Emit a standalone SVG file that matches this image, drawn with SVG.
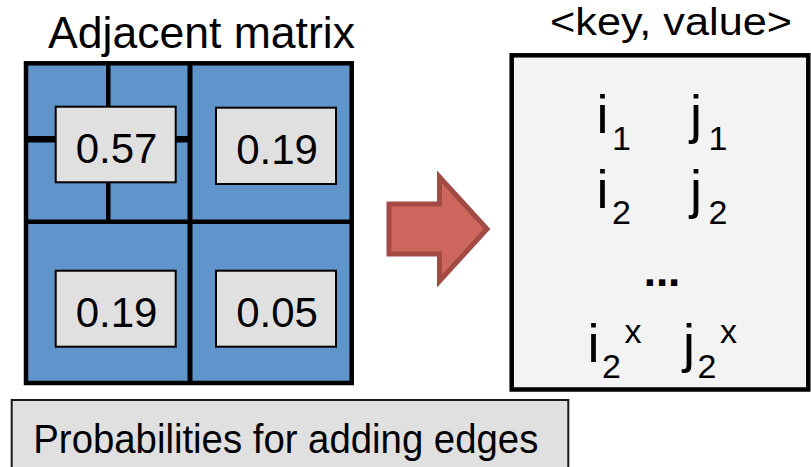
<svg xmlns="http://www.w3.org/2000/svg" width="811" height="467" viewBox="0 0 811 467">
<style>
text{font-family:"Liberation Sans",Arial,sans-serif;fill:#000}
.cell{fill:#5F95CA;stroke:#000;stroke-width:4.5}
.val{fill:#E0E0E0;stroke:#000;stroke-width:2}
.num{font-size:42px;text-anchor:middle}
.big{font-size:54px;text-anchor:middle}
.sm{font-size:34px;text-anchor:middle}
</style>
<rect width="811" height="467" fill="#fff"/>
<g id="matrix">
<text x="201.5" y="48" font-size="44" text-anchor="middle" textLength="307" lengthAdjust="spacingAndGlyphs">Adjacent matrix</text>
<rect class="cell" x="26" y="63.3" width="325.7" height="319.7"/>
<line x1="190" y1="63.3" x2="190" y2="383" stroke="#000" stroke-width="5"/>
<line x1="26" y1="221.7" x2="351.7" y2="221.7" stroke="#000" stroke-width="4.5"/>
<line x1="108.3" y1="63.3" x2="108.3" y2="221.7" stroke="#000" stroke-width="4.5"/>
<line x1="26" y1="139.3" x2="190" y2="139.3" stroke="#000" stroke-width="6.5"/>
<g id="v057"><rect class="val" x="55.7" y="106.7" width="120" height="75.6"/><text class="num" x="116.5" y="163">0.57</text></g>
<g id="v019a"><rect class="val" x="216" y="107.7" width="120" height="76.3"/><text class="num" x="277" y="164">0.19</text></g>
<g id="v019b"><rect class="val" x="55.7" y="270.7" width="120" height="76"/><text class="num" x="116.5" y="327">0.19</text></g>
<g id="v005"><rect class="val" x="216" y="270.7" width="120" height="76"/><text class="num" x="277" y="327">0.05</text></g>
</g>
<g id="connectors">
<polygon points="389,204 439.5,204 439.5,177 487,229 439.5,281 439.5,254 389,254" fill="#CD665D" stroke="#A34A45" stroke-width="5" stroke-linejoin="miter"/>
</g>
<g id="kv">
<text x="671" y="35" font-size="38" text-anchor="middle" textLength="242" lengthAdjust="spacingAndGlyphs">&lt;key, value&gt;</text>
<rect x="511.7" y="55.3" width="296.6" height="334.2" fill="#F3F3F3" stroke="#000" stroke-width="4.5"/>
<text class="big" x="602.5" y="133">i</text><text class="sm" x="621.5" y="150">1</text>
<text class="big" x="696" y="133">j</text><text class="sm" x="718" y="150">1</text>
<text class="big" x="602.5" y="208">i</text><text class="sm" x="621.5" y="223.5">2</text>
<text class="big" x="696" y="208">j</text><text class="sm" x="718" y="223.5">2</text>
<text x="662" y="286" font-size="44" font-weight="bold" text-anchor="middle">...</text>
<text class="big" x="593.5" y="362">i</text><text class="sm" x="611.5" y="378">2</text><text class="sm" x="633" y="343">x</text>
<text class="big" x="689" y="362">j</text><text class="sm" x="707" y="378">2</text><text class="sm" x="728.5" y="343">x</text>
</g>
<g id="caption">
<rect x="11.7" y="400" width="556.6" height="80" fill="#E0E0E0" stroke="#1a1a1a" stroke-width="2"/>
<text x="33.3" y="453.3" font-size="40" textLength="505" lengthAdjust="spacingAndGlyphs">Probabilities for adding edges</text>
</g>
</svg>
